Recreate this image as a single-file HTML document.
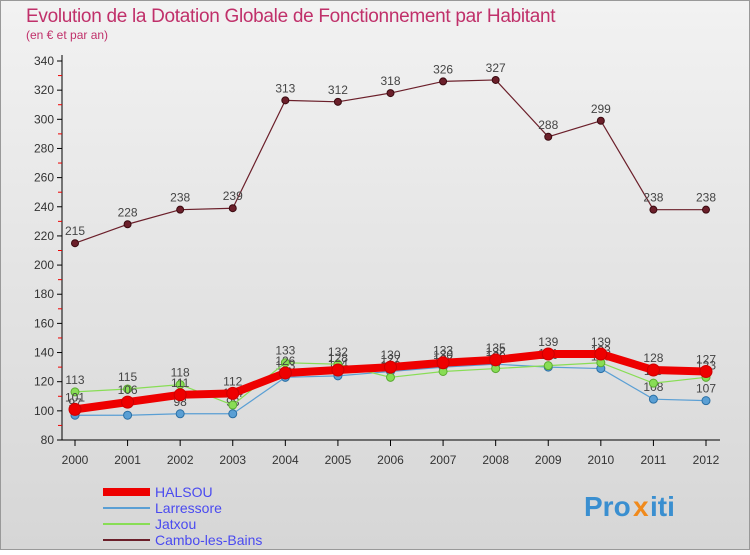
<!DOCTYPE html>
<html><head><meta charset="utf-8"><style>
body{margin:0;width:750px;height:550px;overflow:hidden;font-family:"Liberation Sans",sans-serif}
svg text{font-family:"Liberation Sans",sans-serif}
</style></head><body>
<svg width="750" height="550" xmlns="http://www.w3.org/2000/svg">
<defs><linearGradient id="bg" x1="0" y1="0" x2="0" y2="1"><stop offset="0" stop-color="#f2f2f2"/><stop offset="1" stop-color="#d6d6d6"/></linearGradient></defs>
<rect x="0.5" y="0.5" width="749" height="549" fill="url(#bg)" stroke="#999"/>
<text x="26" y="22" font-size="19" fill="#c0306a" font-weight="normal" letter-spacing="-0.3">Evolution de la Dotation Globale de Fonctionnement par Habitant</text>
<text x="26" y="39" font-size="12" fill="#c0306a">(en € et par an)</text>
<g id="axes"></g><g id="series"></g><g id="legend"></g>
<g font-size="28" font-weight="bold">
<text x="584" y="516" fill="#3a8fd0">Pro</text><text x="633" y="516" fill="#f08a1c">x</text><text x="650" y="516" fill="#3a8fd0">iti</text></g>
</svg>
<script>
const years=[2000,2001,2002,2003,2004,2005,2006,2007,2008,2009,2010,2011,2012];
const yTicks=[80,100,120,140,160,180,200,220,240,260,280,300,320,340];
const halsou=[101,106,111,112,126,128,130,133,135,139,139,128,127];
const larressore=[97,97,98,98,123,124,127,130,132,130,129,108,107];
const jatxou=[113,115,118,104,133,132,123,127,129,131,133,119,123];
const cambo=[215,228,238,239,313,312,318,326,327,288,299,238,238];
const NS="http://www.w3.org/2000/svg";
const x=i=>75+i*(706-75)/12;
const y=v=>440-(v-80)*(379/260);
function mk(tag,attrs,parent){const e=document.createElementNS(NS,tag);for(const k in attrs)e.setAttribute(k,attrs[k]);parent.appendChild(e);return e;}
const ax=document.getElementById('axes');
let yl=mk('line',{x1:62,y1:55,x2:62,y2:440,stroke:'#000'},ax);


let xl=mk('line',{x1:62,y1:440,x2:720,y2:440,stroke:'#000'},ax);


yTicks.forEach((v,k)=>{
  mk('line',{x1:57,y1:y(v),x2:62,y2:y(v),stroke:'#000'},ax);
  if(k<yTicks.length-1) mk('line',{x1:58,y1:y(v+10),x2:62,y2:y(v+10),stroke:'#e00'},ax);
  const t=mk('text',{x:54,y:y(v)+4,'font-size':12,'text-anchor':'end',fill:'#333'},ax);
  t.textContent=v;
  
  
});
years.forEach((yr,i)=>{
  mk('line',{x1:x(i),y1:440,x2:x(i),y2:446,stroke:'#000'},ax);
  const t=mk('text',{x:x(i),y:464,'font-size':12,'text-anchor':'middle',fill:'#333'},ax);
  t.textContent=yr;
  
  
});
const sg=document.getElementById('series');
function series(data,color,w,r,name,dotStroke){
  const g=mk('g',{},sg);
  
  
  mk('polyline',{points:data.map((v,i)=>x(i)+','+y(v)).join(' '),fill:'none',stroke:color,'stroke-width':w,'stroke-linejoin':'round'},g);
  data.forEach((v,i)=>{
    const c=mk('circle',{cx:x(i),cy:y(v),r:r,fill:color,stroke:dotStroke,'stroke-width':1},g);
    
    
    const t=mk('text',{x:x(i),y:y(v)-8,'font-size':12,'text-anchor':'middle',fill:'#444'},g);
    t.textContent=v;
    
    
  });
}
series(cambo,'#6b1f2a',1.2,3.5,'cambo-les-bains','#3a0a10');
series(larressore,'#5a9fd4',1.2,4,'larressore','#2a6fa4');
series(jatxou,'#88dd55',1.2,4,'jatxou','#5aaa30');
series(halsou,'#ee0000',8,6,'halsou','#cc0000');
const lg=document.getElementById('legend');
const items=[['HALSOU','#ee0000',8],['Larressore','#5a9fd4',2],['Jatxou','#88dd55',2],['Cambo-les-Bains','#6b1f2a',2]];
items.forEach((it,k)=>{
  const yy=492+k*16;
  const g=mk('g',{},lg);
  
  
  mk('line',{x1:103,y1:yy,x2:150,y2:yy,stroke:it[1],'stroke-width':it[2]},g);
  const t=mk('text',{x:155,y:yy+5,'font-size':14,fill:'#4a4af0'},g);
  t.textContent=it[0];
});
</script>
</body></html>
